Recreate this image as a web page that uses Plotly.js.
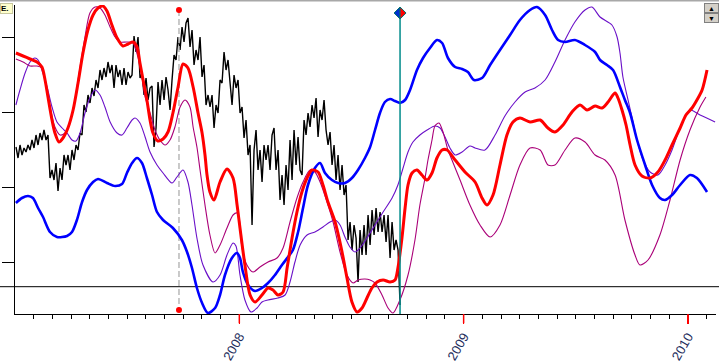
<!DOCTYPE html>
<html><head><meta charset="utf-8">
<script src="https://cdn.plot.ly/plotly-3.0.1.min.js"></script>
<style>html,body{margin:0;padding:0;background:#fff;overflow:hidden}#chart{width:719px;height:364px}</style>
</head><body><div id="chart"></div>
<script>
// x values are decimal years
const yearTicks = [2008, 2009, 2010];
const yearLabels = ['2008', '2009', '2010'];
const yTickVals = [51.7, 126.7, 201.7, 276.7];
const baseLevel = [27.3];

// price series, regularly sampled
const priceStart = 2007.0045;
const priceStep = 0.008917;
const priceValues = [
167,156,169,159,166,162,169,164,174,166,
179,169,181,174,184,174,179,136,144,134,
151,123,146,134,159,149,159,144,164,154,
169,164,181,179,209,202,219,211,226,218,
234,226,244,234,246,237,252,241,249,226,
249,237,244,229,246,229,242,236,239,278,
262,277,236,241,219,236,214,226,228,167,
186,232,209,234,214,237,224,204,234,259,
254,277,264,287,272,291,296,267,284,249,
264,254,277,237,249,209,219,207,219,186,
209,201,234,231,262,244,254,227,209,239,
226,234,201,207,176,194,159,169,89,164,
184,144,164,132,169,154,169,144,179,186,
144,164,114,139,109,149,124,174,134,184,
149,177,144,139,194,179,201,187,209,196,
216,177,204,194,214,184,169,182,149,169,
134,159,124,149,119,129,74,92,64,89,
76,32,84,59,89,59,99,69,104,79,
106,82,102,82,99,72,99,56,92,64,
74,64,9];

const redX = [2007.004,2007.036,2007.067,2007.098,2007.120,2007.134,2007.147,2007.165,2007.178,2007.196,
2007.214,2007.236,2007.259,2007.281,2007.303,2007.325,2007.348,2007.370,2007.392,2007.410,
2007.432,2007.455,2007.481,2007.504,2007.526,2007.544,2007.557,2007.571,2007.588,2007.602,
2007.615,2007.637,2007.660,2007.682,2007.704,2007.727,2007.749,2007.771,2007.794,2007.816,
2007.834,2007.847,2007.856,2007.869,2007.887,2007.914,2007.945,2007.972,2007.990,2008.003,
2008.025,2008.048,2008.070,2008.101,2008.128,2008.150,2008.172,2008.195,2008.213,2008.235,
2008.257,2008.279,2008.302,2008.324,2008.351,2008.373,2008.395,2008.427,2008.458,2008.480,
2008.502,2008.525,2008.547,2008.569,2008.591,2008.614,2008.641,2008.672,2008.694,2008.707,
2008.725,2008.739,2008.752,2008.770,2008.792,2008.814,2008.837,2008.859,2008.881,2008.904,
2008.926,2008.962,2009.006,2009.051,2009.082,2009.104,2009.131,2009.162,2009.193,2009.220,
2009.251,2009.296,2009.341,2009.376,2009.407,2009.443,2009.483,2009.519,2009.550,2009.586,
2009.617,2009.644,2009.675,2009.688,2009.706,2009.724,2009.742,2009.764,2009.795,2009.831,
2009.866,2009.898,2009.929,2009.965,2009.991,2010.018,2010.040,2010.063,2010.085];
const redY = [261,258,255,252,247,234,217,194,181,172,
176,186,204,231,261,284,299,306,308,303,
289,276,268,270,272,267,251,234,214,194,
181,173,175,182,201,227,250,246,227,201,
181,159,139,122,114,132,145,136,109,86,
49,19,12,19,26,24,19,22,46,76,
102,122,136,144,142,129,112,92,62,36,
12,2,6,16,26,32,34,32,34,46,
76,106,129,141,144,139,134,141,156,164,
164,154,142,132,116,109,119,149,179,192,
196,192,194,186,182,189,202,209,204,208,
206,212,221,216,204,189,169,149,138,136,
142,154,169,186,199,206,214,224,244];

const magX = [2007.004,2007.036,2007.067,2007.098,2007.120,2007.134,2007.156,2007.178,2007.201,2007.223,
2007.245,2007.267,2007.290,2007.312,2007.334,2007.357,2007.379,2007.401,2007.424,2007.446,
2007.468,2007.499,2007.526,2007.548,2007.566,2007.580,2007.602,2007.624,2007.646,2007.669,
2007.691,2007.713,2007.736,2007.758,2007.780,2007.794,2007.811,2007.825,2007.847,2007.869,
2007.892,2007.914,2007.945,2007.972,2007.990,2007.999,2008.012,2008.034,2008.061,2008.092,
2008.128,2008.168,2008.195,2008.226,2008.257,2008.284,2008.315,2008.337,2008.360,2008.391,
2008.418,2008.449,2008.480,2008.507,2008.529,2008.560,2008.583,2008.605,2008.636,2008.663,
2008.685,2008.716,2008.752,2008.783,2008.805,2008.828,2008.841,2008.859,2008.872,2008.890,
2008.908,2008.930,2008.948,2008.984,2009.028,2009.073,2009.118,2009.162,2009.207,2009.251,
2009.296,2009.341,2009.376,2009.407,2009.452,2009.496,2009.541,2009.586,2009.630,2009.675,
2009.719,2009.764,2009.786,2009.822,2009.875,2009.920,2009.965,2010.009,2010.054,2010.080];
const magY = [255,252,248,248,246,234,207,187,179,181,
191,214,247,277,301,307,306,299,287,277,
272,272,271,257,237,217,201,184,174,169,
174,187,207,214,207,187,167,144,109,79,
61,69,86,99,101,96,66,49,42,47,
52,56,66,92,116,132,144,142,132,112,
92,62,39,31,34,35,34,31,19,6,
1,14,39,74,109,136,154,174,188,191,
182,164,154,134,109,89,77,89,119,149,
166,164,149,149,164,176,172,159,154,139,
94,59,49,54,79,114,154,184,207,217];

const vioX = [2007.004,2007.022,2007.045,2007.067,2007.089,2007.103,2007.120,2007.143,2007.165,2007.187,
2007.210,2007.232,2007.254,2007.272,2007.290,2007.312,2007.334,2007.357,2007.379,2007.401,
2007.424,2007.455,2007.477,2007.499,2007.522,2007.535,2007.557,2007.580,2007.602,2007.633,
2007.660,2007.700,2007.722,2007.749,2007.771,2007.789,2007.811,2007.838,2007.883,2007.914,
2007.945,2007.972,2007.985,2008.003,2008.025,2008.052,2008.079,2008.101,2008.128,2008.172,
2008.204,2008.226,2008.248,2008.271,2008.302,2008.337,2008.373,2008.404,2008.427,2008.449,
2008.471,2008.493,2008.516,2008.538,2008.569,2008.605,2008.641,2008.681,2008.707,2008.730,
2008.752,2008.774,2008.805,2008.837,2008.872,2008.895,2008.917,2008.939,2008.962,2008.993,
2009.028,2009.051,2009.095,2009.140,2009.184,2009.229,2009.274,2009.318,2009.363,2009.407,
2009.452,2009.496,2009.541,2009.572,2009.608,2009.661,2009.684,2009.697,2009.710,2009.733,
2009.751,2009.773,2009.800,2009.831,2009.866,2009.898,2009.929,2009.965,2010.009,2010.054,
2010.121];
const vioY = [209,224,241,252,256,254,244,227,207,192,
186,181,174,173,181,201,216,224,219,207,
192,181,179,186,194,196,191,177,162,149,
141,131,137,144,132,109,76,49,32,39,
59,71,68,39,14,2,6,12,14,16,
19,32,52,69,79,82,87,92,94,89,
77,67,62,66,76,89,102,116,129,146,
162,172,179,184,188,186,177,166,159,162,
168,166,164,179,198,212,222,226,234,252,
274,292,304,307,297,289,277,261,237,214,
196,174,154,142,139,149,164,186,204,199,
192];

const blueX = [2007.004,2007.031,2007.058,2007.080,2007.103,2007.125,2007.156,2007.187,2007.232,2007.254,
2007.276,2007.299,2007.321,2007.348,2007.370,2007.410,2007.446,2007.477,2007.499,2007.522,
2007.544,2007.566,2007.588,2007.611,2007.633,2007.660,2007.704,2007.744,2007.767,2007.789,
2007.811,2007.834,2007.860,2007.892,2007.914,2007.936,2007.967,2007.990,2008.003,2008.016,
2008.039,2008.070,2008.101,2008.128,2008.159,2008.190,2008.217,2008.239,2008.262,2008.284,
2008.306,2008.337,2008.360,2008.382,2008.413,2008.440,2008.471,2008.502,2008.529,2008.560,
2008.583,2008.605,2008.627,2008.649,2008.672,2008.694,2008.716,2008.739,2008.761,2008.792,
2008.819,2008.850,2008.881,2008.904,2008.930,2008.962,2008.993,2009.019,2009.046,2009.082,
2009.118,2009.162,2009.207,2009.251,2009.296,2009.327,2009.363,2009.394,2009.421,2009.452,
2009.496,2009.541,2009.586,2009.608,2009.639,2009.666,2009.697,2009.719,2009.742,2009.773,
2009.809,2009.840,2009.875,2009.898,2009.929,2009.965,2010.009,2010.040,2010.085];
const blueY = [111,116,118,116,106,97,82,77,78,82,
94,112,124,132,135,131,128,130,141,151,
156,151,136,119,102,94,86,74,62,46,
26,11,1,6,19,39,56,61,56,42,
29,23,26,31,39,49,57,64,82,106,
129,146,151,141,134,131,131,136,144,156,
167,184,201,212,215,213,211,214,224,244,
256,266,274,271,256,247,245,242,234,236,
249,264,279,294,304,307,299,284,274,272,
274,269,262,254,249,244,227,214,201,174,
149,129,116,114,119,129,139,136,122];

const cursorX = 2007.731;
const cursorEnds = [304, 4];
const selectedX = 2008.7165;
const selectedTop = 301;

const priceX = priceValues.map((_, i) => priceStart + i * priceStep);
// monthly minor ticks between the year ticks
const monthTicks = [];
for (let i = 1; i < 38; i++) { if (i % 12 !== 0) monthTicks.push(2007 + i / 12); }

const data = [
  {x: priceX, y: priceValues, mode: 'lines', line: {color: '#000000', width: 1.4}, hoverinfo: 'skip'},
  {x: [cursorX, cursorX], y: cursorEnds, mode: 'lines+markers', line: {color: '#b8b8b8', width: 1.5, dash: '6px,3px'},
   marker: {color: '#ff0000', size: 6}},
  {x: vioX, y: vioY, mode: 'lines', line: {color: '#6a10c8', width: 1.1, shape: 'spline', smoothing: 0.8}},
  {x: magX, y: magY, mode: 'lines', line: {color: '#aa0078', width: 1.1, shape: 'spline', smoothing: 0.8}},
  {x: blueX, y: blueY, mode: 'lines', line: {color: '#0000ff', width: 2.6, shape: 'spline', smoothing: 0.8}},
  {x: redX, y: redY, mode: 'lines', line: {color: '#ff0000', width: 3, shape: 'spline', smoothing: 0.8}},
  {x: [selectedX, selectedX], y: [0, selectedTop], mode: 'lines', line: {color: '#008b8b', width: 1.5}}
];

// red year tick marks below the axis
const yearTickShapes = yearTicks.map(t => ({
  type: 'line', xref: 'x', yref: 'paper', x0: t, x1: t, y0: 0, y1: -0.03,
  line: {color: '#ff0000', width: 1.5}
}));

const layout = {
  width: 719, height: 364,
  margin: {l: 15, r: 3, t: 5, b: 50},
  paper_bgcolor: '#ffffff', plot_bgcolor: '#ffffff',
  showlegend: false,
  xaxis: {
    range: [2007, 2010.125], showgrid: false, zeroline: false,
    showline: true, linecolor: '#000', linewidth: 1,
    tickmode: 'array', tickvals: yearTicks, ticktext: yearLabels,
    ticks: 'outside', ticklen: 9, tickwidth: 1.5, tickcolor: '#ff0000',
    tickangle: -60,
    tickfont: {family: 'Liberation Sans, Arial, sans-serif', size: 13, color: '#1e2d5c'},
    minor: {tickmode: 'array', tickvals: monthTicks, ticks: 'outside', ticklen: 4, tickwidth: 1, tickcolor: '#000', showgrid: false}
  },
  yaxis: {
    range: [0, 309], showgrid: false, zeroline: false,
    showline: true, linecolor: '#000', linewidth: 1,
    tickmode: 'array', tickvals: yTickVals, ticks: 'outside', ticklen: 12, tickcolor: '#000', tickwidth: 1,
    showticklabels: false
  },
  shapes: [
    {type: 'line', xref: 'paper', yref: 'y', x0: -0.0214, x1: 1.0043, y0: baseLevel[0], y1: baseLevel[0],
     line: {color: '#000', width: 1}, layer: 'below'},
    {type: 'line', xref: 'paper', yref: 'paper', x0: -0.0214, x1: 1.0043, y0: 1.0145, y1: 1.0145,
     line: {color: '#a8a8a8', width: 2}},
    {type: 'path', xref: 'x', yref: 'y', xsizemode: 'pixel', ysizemode: 'pixel', xanchor: selectedX, yanchor: selectedTop,
     path: 'M -6,0 L 0,6 L 0,-6 Z', fillcolor: '#0030d0', line: {color: '#007070', width: 1}},
    {type: 'path', xref: 'x', yref: 'y', xsizemode: 'pixel', ysizemode: 'pixel', xanchor: selectedX, yanchor: selectedTop,
     path: 'M 0,-6 L 6,0 L 0,6 Z', fillcolor: '#ff0000', line: {color: '#007070', width: 1}}
  ].concat(yearTickShapes),
  annotations: [
    {xref: 'paper', yref: 'paper', x: -0.0214, y: 1.006, xanchor: 'left', yanchor: 'top', showarrow: false,
     text: '<b>E.</b>', font: {family: 'Liberation Sans, Arial', size: 8, color: '#000'},
     bgcolor: '#ffffcc', bordercolor: '#c8c8a0', borderwidth: 1, borderpad: 0, width: 11, height: 9, align: 'left'},
    {xref: 'paper', yref: 'paper', x: 1.0043, y: 1.006, xanchor: 'right', yanchor: 'top', showarrow: false,
     text: '▲', font: {size: 7, color: '#000'}, bgcolor: '#d4d0c8', bordercolor: '#808080', borderwidth: 1,
     borderpad: 0, width: 13, height: 8},
    {xref: 'paper', yref: 'paper', x: 1.0043, y: 0.975, xanchor: 'right', yanchor: 'top', showarrow: false,
     text: '▼', font: {size: 7, color: '#000'}, bgcolor: '#d4d0c8', bordercolor: '#808080', borderwidth: 1,
     borderpad: 0, width: 13, height: 8}
  ]
};

Plotly.newPlot('chart', data, layout, {staticPlot: true, displayModeBar: false});
</script></body></html>
